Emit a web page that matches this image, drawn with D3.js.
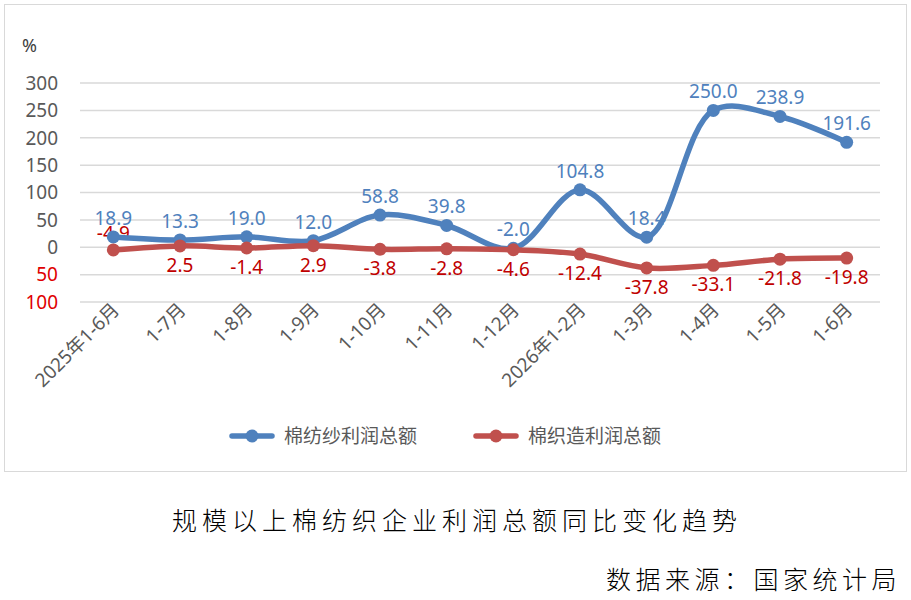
<!DOCTYPE html>
<html lang="zh">
<head>
<meta charset="UTF-8">
<title>规模以上棉纺织企业利润总额同比变化趋势</title>
<script src="https://d3js.org/d3.v7.min.js"></script>
<style>
  body { margin: 0; background: #fff; }
  text { font-family: "Noto Sans", "Noto Sans CJK SC", sans-serif; }
</style>
</head>
<body>
<script>
// data
const months = ["2025年1-6月", "1-7月", "1-8月", "1-9月", "1-10月", "1-11月",
  "1-12月", "2026年1-2月", "1-3月", "1-4月", "1-5月", "1-6月"];
const yarnProfit = [18.9, 13.3, 19.0, 12.0, 58.8, 39.8, -2.0, 104.8, 18.4, 250.0, 238.9, 191.6];
const weavingProfit = [-4.9, 2.5, -1.4, 2.9, -3.8, -2.8, -4.6, -12.4, -37.8, -33.1, -21.8, -19.8];
const seriesNames = ["棉纺纱利润总额", "棉织造利润总额"];
const yTicks = [-100, -50, 0, 50, 100, 150, 200, 250, 300];

const W = 911, H = 600;
const blue = "#4f81bd", red = "#c0504d";

const svg = d3.select("body").append("svg")
  .attr("width", W)
  .attr("height", H);

// chart frame
svg.append("rect")
  .attr("x", 4.5).attr("y", 4.5)
  .attr("width", 902).attr("height", 467)
  .attr("fill", "#fff")
  .attr("stroke", "#d9d9d9");

const x = d3.scaleBand().domain(months).range([80, 880]);
const y = d3.scaleLinear().domain([-100, 300]).range([302, 83]);
const cx = d => x(d) + x.bandwidth() / 2;

// grid
svg.append("g").selectAll("line")
  .data(yTicks)
  .join("line")
  .attr("x1", 80).attr("x2", 880)
  .attr("y1", d => y(d)).attr("y2", d => y(d))
  .attr("stroke", "#d9d9d9")
  .attr("stroke-width", 1.5);

// y tick labels (negatives shown in red without sign)
svg.append("g").selectAll("text")
  .data(yTicks)
  .join("text")
  .attr("x", 58)
  .attr("y", d => y(d))
  .attr("dy", "0.36em")
  .attr("text-anchor", "end")
  .attr("font-size", 19)
  .attr("fill", d => d < 0 ? "#e00000" : "#595959")
  .text(d => Math.abs(d));

svg.append("text")
  .attr("x", 22).attr("y", 52)
  .attr("font-size", 18)
  .attr("fill", "#404040")
  .text("%");

// x labels rotated
svg.append("g").selectAll("text")
  .data(months)
  .join("text")
  .attr("transform", d => `translate(${cx(d) + 7},${311}) rotate(-45)`)
  .attr("text-anchor", "end")
  .attr("font-size", 19)
  .attr("fill", "#595959")
  .text(d => d);

const line = d3.line()
  .x((d, i) => cx(months[i]))
  .y(d => y(d))
  .curve(d3.curveCatmullRom.alpha(0.5));

function drawSeries(vals, color) {
  svg.append("path")
    .datum(vals)
    .attr("d", line)
    .attr("fill", "none")
    .attr("stroke", color)
    .attr("stroke-width", 5.5)
    .attr("stroke-linecap", "round");
  svg.append("g").selectAll("circle")
    .data(vals)
    .join("circle")
    .attr("cx", (d, i) => cx(months[i]))
    .attr("cy", d => y(d))
    .attr("r", 6.5)
    .attr("fill", color);
}

// labels first so lines sit on top, as in the reference
svg.append("g").selectAll("text")
  .data(weavingProfit)
  .join("text")
  .attr("x", (d, i) => cx(months[i]))
  .attr("y", (d, i) => i === 0 ? y(d) - 10 : y(d) + 26)
  .attr("text-anchor", "middle")
  .attr("font-size", 19)
  .attr("fill", "#c00000")
  .text(d => d.toFixed(1));

svg.append("g").selectAll("text")
  .data(yarnProfit)
  .join("text")
  .attr("x", (d, i) => cx(months[i]))
  .attr("y", d => y(d) - 12)
  .attr("text-anchor", "middle")
  .attr("font-size", 19)
  .attr("fill", blue)
  .text(d => d.toFixed(1));

drawSeries(yarnProfit, blue);
drawSeries(weavingProfit, red);

// legend
const legend = svg.append("g").selectAll("g")
  .data(seriesNames)
  .join("g")
  .attr("transform", (d, i) => `translate(${232 + i * 244},436)`);
legend.append("line")
  .attr("x1", 0).attr("x2", 40)
  .attr("stroke", (d, i) => i ? red : blue)
  .attr("stroke-width", 5.5)
  .attr("stroke-linecap", "round");
legend.append("circle")
  .attr("cx", 20).attr("r", 6.5)
  .attr("fill", (d, i) => i ? red : blue);
legend.append("text")
  .attr("x", 52).attr("dy", "0.36em")
  .attr("font-size", 19)
  .attr("fill", "#595959")
  .text(d => d);

// caption and source
svg.append("text")
  .attr("x", 457).attr("y", 530)
  .attr("text-anchor", "middle")
  .attr("font-size", 25)
  .attr("font-weight", 300)
  .attr("letter-spacing", 5)
  .attr("fill", "#000")
  .text("规模以上棉纺织企业利润总额同比变化趋势");

svg.append("text")
  .attr("x", 901).attr("y", 589)
  .attr("text-anchor", "end")
  .attr("font-size", 25)
  .attr("font-weight", 300)
  .attr("letter-spacing", 4.5)
  .attr("fill", "#000")
  .text("数据来源：国家统计局");
</script>
</body>
</html>
